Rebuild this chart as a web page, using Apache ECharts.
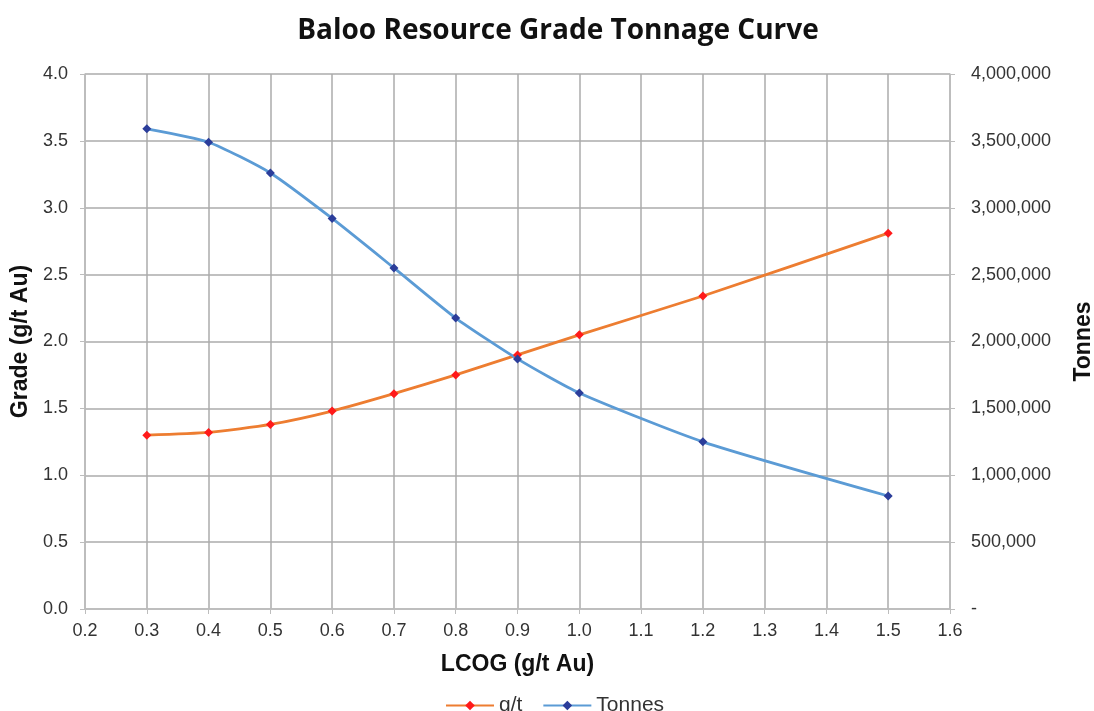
<!DOCTYPE html>
<html><head><meta charset="utf-8">
<script src="https://cdn.jsdelivr.net/npm/echarts@6/dist/echarts.min.js"></script>
<style>html,body{margin:0;padding:0;background:#fff}#c{width:1094px;height:711px}</style>
</head><body><div id="c"></div>
<script>
const lcog = [0.3, 0.4, 0.5, 0.6, 0.7, 0.8, 0.9, 1.0, 1.2, 1.5];
const grade = [1.30, 1.32, 1.38, 1.48, 1.61, 1.75, 1.90, 2.05, 2.34, 2.81];
const tonnes = [3590000, 3490000, 3260000, 2920000, 2550000, 2175000, 1870000, 1615000, 1250000, 845000];

const chart = echarts.init(document.getElementById('c'));
const gridLine = {show: true, lineStyle: {color: '#ababab', width: 1.5}};
const axLbl = {color: '#333333', fontFamily: 'Liberation Sans, Arial', fontSize: 18};
const nameStyle = {fontFamily: 'Liberation Sans, Arial', fontWeight: 'bold', fontSize: 23, color: '#111'};
chart.setOption({
  animation: false,
  title: {text: 'Baloo Resource Grade Tonnage Curve', left: 553, top: 12, textAlign: 'center',
    textStyle: {fontFamily: 'Open Sans', fontWeight: 'bold', fontSize: 28, color: '#111'}},
  grid: {left: 85, right: 144, top: 74, bottom: 102, outerBoundsMode: 'none', containLabel: false},
  legend: {top: 690, left: 440, itemWidth: 48, itemHeight: 12, itemGap: 20,
    textStyle: {fontFamily: 'Liberation Sans, Arial', fontSize: 21, color: '#333333'},
    data: ['g/t', 'Tonnes']},
  xAxis: {type: 'value', min: 0.2, max: 1.6, interval: 0.1,
    name: 'LCOG (g/t Au)', nameLocation: 'middle', nameGap: 44, nameTextStyle: nameStyle,
    axisLine: {lineStyle: {color: '#bdbdbd', width: 1.5}},
    axisTick: {show: true, length: 5, lineStyle: {color: '#bdbdbd'}},
    axisLabel: Object.assign({formatter: v => v.toFixed(1), margin: 13}, axLbl),
    splitLine: gridLine},
  yAxis: [
    {type: 'value', min: 0, max: 4, interval: 0.5, position: 'left',
      name: 'Grade (g/t Au)', nameLocation: 'middle', nameGap: 48, nameRotate: 90, nameTextStyle: nameStyle,
      axisLine: {show: true, lineStyle: {color: '#bdbdbd', width: 1.5}},
      axisTick: {show: true, length: 5, lineStyle: {color: '#bdbdbd'}},
      axisLabel: Object.assign({formatter: v => v.toFixed(1), margin: 17}, axLbl),
      splitLine: gridLine},
    {type: 'value', min: 0, max: 4000000, interval: 500000, position: 'right',
      name: 'Tonnes', nameLocation: 'middle', nameGap: 122, nameRotate: 90, nameTextStyle: nameStyle,
      axisLine: {show: true, lineStyle: {color: '#bdbdbd', width: 1.5}},
      axisTick: {show: true, length: 5, lineStyle: {color: '#bdbdbd'}},
      axisLabel: Object.assign({formatter: v => v === 0 ? '-' : v.toLocaleString('en-US'), margin: 21, align: 'left'}, axLbl),
      splitLine: {show: false}}
  ],
  series: [
    {name: 'g/t', type: 'line', yAxisIndex: 0, smooth: 0.2, symbol: 'diamond', symbolSize: 9,
      data: lcog.map((x, i) => [x, grade[i]]),
      lineStyle: {color: '#ED7D31', width: 2.8}, itemStyle: {color: '#FF1A1A', borderWidth: 0}},
    {name: 'Tonnes', type: 'line', yAxisIndex: 1, smooth: 0.2, symbol: 'diamond', symbolSize: 9,
      data: lcog.map((x, i) => [x, tonnes[i]]),
      lineStyle: {color: '#5B9BD5', width: 2.8}, itemStyle: {color: '#2B3D9A', borderWidth: 0}}
  ]
});
</script></body></html>
